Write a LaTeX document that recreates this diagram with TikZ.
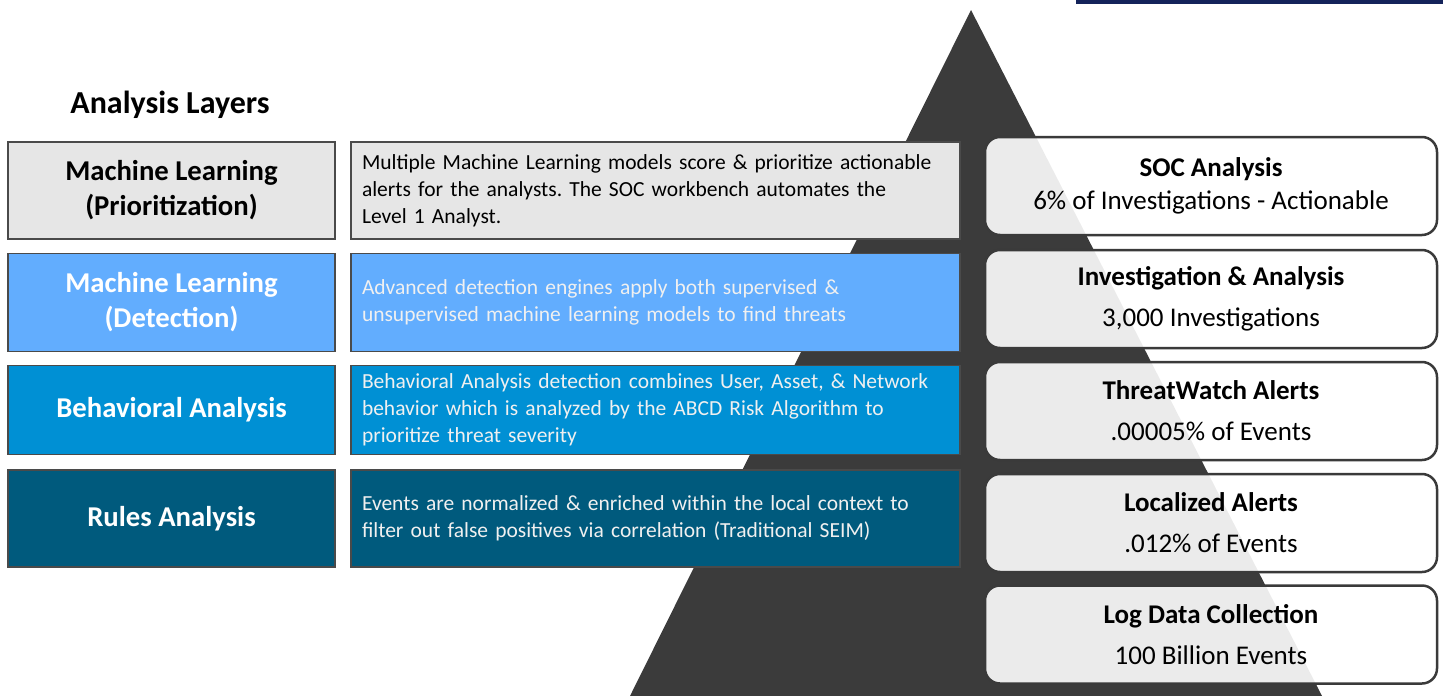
\documentclass[tikz,border=0pt]{standalone}
\usepackage{fontspec}
\setmainfont{Carlito}
\definecolor{pyr}{HTML}{3B3B3B}
\definecolor{navy}{HTML}{14235A}
\definecolor{lgray}{HTML}{E6E6E6}
\definecolor{mlblue}{HTML}{62ADFE}
\definecolor{bablue}{HTML}{0090D4}
\definecolor{rlteal}{HTML}{005A7D}
\definecolor{edge}{HTML}{4A4A4A}
\definecolor{sedge}{HTML}{3A3A3A}
\frenchspacing
\begin{document}
\begin{tikzpicture}[x=1pt,y=-1pt,
  layerbox/.style={draw=edge, line width=1.5pt, minimum width=327pt, inner sep=0pt, align=center,
    font=\fontsize{28.7}{35}\selectfont\bfseries},
  descbox/.style={draw=edge, line width=1.5pt, minimum width=609pt, inner xsep=11pt, inner ysep=0pt,
    text width=587pt, align=left, font=\fontsize{21.5}{27}\selectfont},
  stagebox/.style={draw=sedge, line width=2.5pt, rounded corners=15pt, fill=white, fill opacity=0.9,
    text opacity=1, minimum width=452pt, minimum height=98pt, inner sep=0pt, align=center,
    font=\fontsize{27}{41}\selectfont}]
\useasboundingbox (0,0) rectangle (1443,696);
% top bar
\fill[navy] (1076,0) rectangle (1443,3.5);
% pyramid
\fill[pyr] (971,10) -- (1322,696) -- (630,696) -- cycle;
% header
\node[font=\fontsize{32}{34}\selectfont\bfseries] (hdr) at (170,105) {Analysis Layers};
% left layer boxes
\node[layerbox, fill=lgray, minimum height=97pt] (l1) at (171.5,190.5) {Machine Learning\\(Prioritization)};
\node[layerbox, fill=mlblue, text=white, minimum height=98pt] (l2) at (171.5,302.5) {Machine Learning\\(Detection)};
\node[layerbox, fill=bablue, text=white, minimum height=89pt] (l3) at (171.5,410) {Behavioral Analysis};
\node[layerbox, fill=rlteal, text=white, minimum height=97pt] (l4) at (171.5,518.5) {Rules Analysis};
% description boxes
\node[descbox, fill=lgray, minimum height=97pt] (d1) at (655.5,190.5) {Multiple Machine Learning models score \& prioritize actionable\\alerts for the analysts. The SOC workbench automates the\\Level 1 Analyst.};
\node[descbox, fill=mlblue, text=white!94!black, minimum height=98pt] (d2) at (655.5,302.5) {Advanced detection engines apply both supervised \&\\unsupervised machine learning models to find threats};
\node[descbox, fill=bablue, text=white!94!black, minimum height=89pt] (d3) at (655.5,410) {Behavioral Analysis detection combines User, Asset, \& Network\\behavior which is analyzed by the ABCD Risk Algorithm to\\prioritize threat severity};
\node[descbox, fill=rlteal, text=white!94!black, minimum height=97pt] (d4) at (655.5,518.5) {Events are normalized \& enriched within the local context to\\filter out false positives via correlation (Traditional SEIM)};
% stage boxes
\node[stagebox, font=\fontsize{27}{33}\selectfont] (s1) at (1211,186) {\textbf{SOC Analysis}\\6\% of Investigations - Actionable};
\node[stagebox] (s2) at (1211,299) {\textbf{Investigation \& Analysis}\\3,000 Investigations};
\node[stagebox] (s3) at (1211,411) {\textbf{ThreatWatch Alerts}\\.00005\% of Events};
\node[stagebox] (s4) at (1211,523) {\textbf{Localized Alerts}\\.012\% of Events};
\node[stagebox] (s5) at (1211,634.5) {\textbf{Log Data Collection}\\100 Billion Events};
\end{tikzpicture}
\end{document}
